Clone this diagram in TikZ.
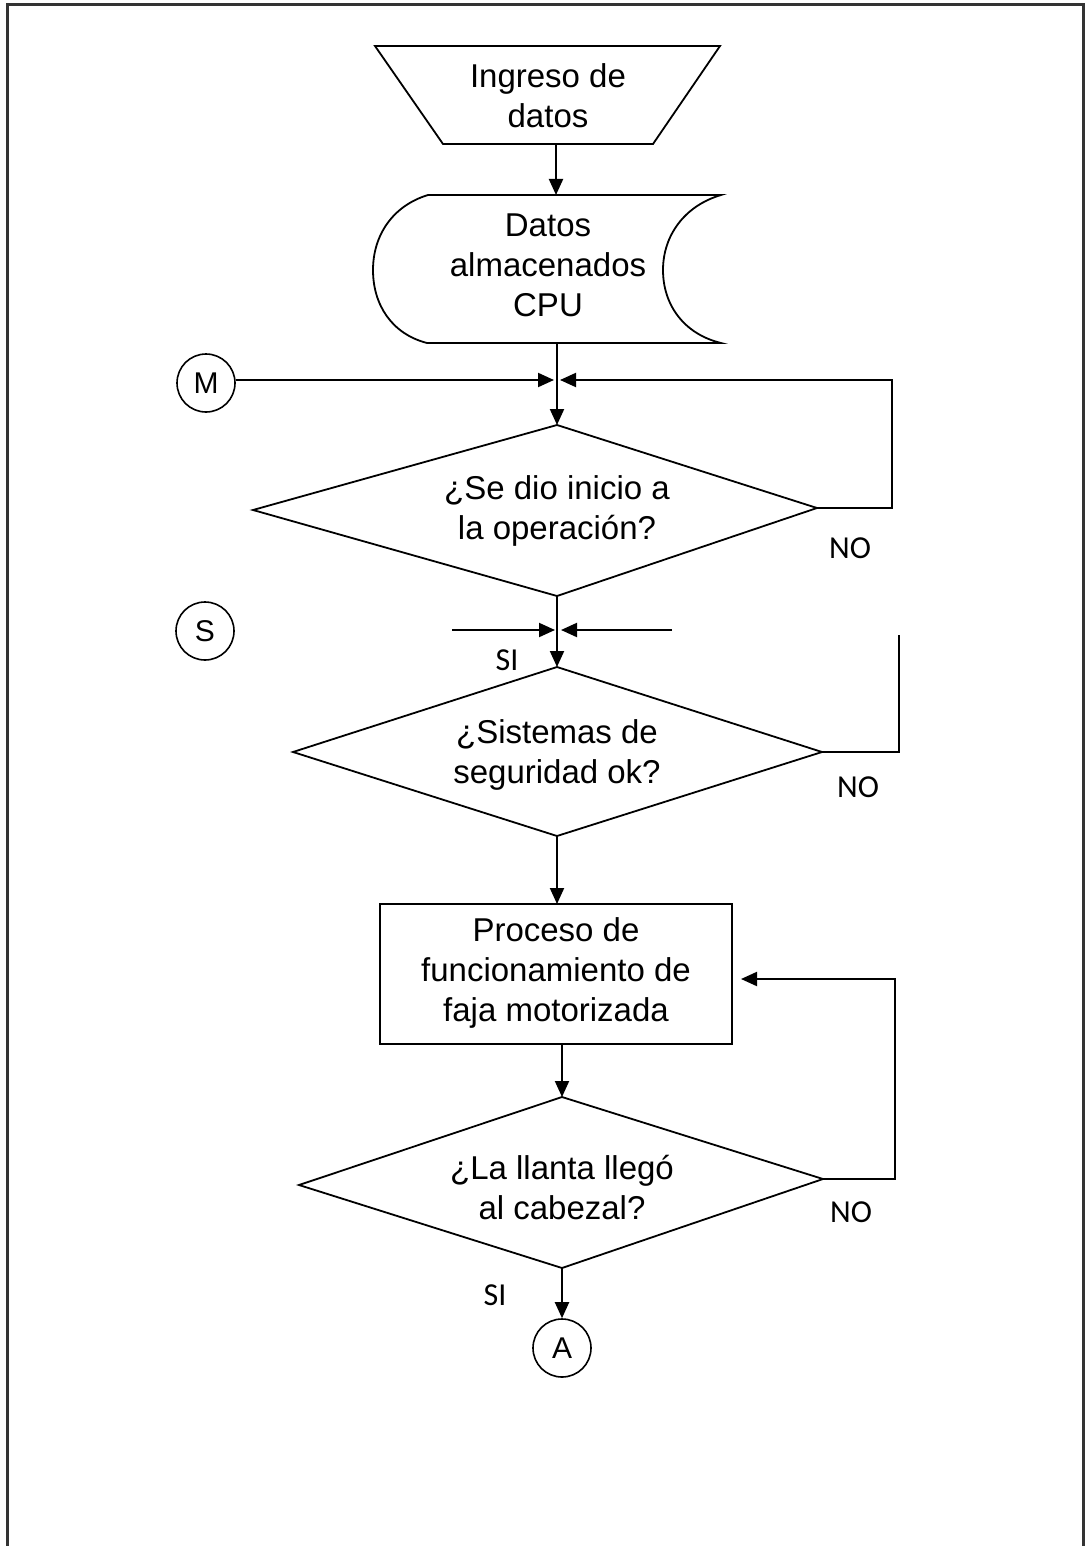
\documentclass[tikz,border=0pt]{standalone}
\usepackage{fontspec}
\setmainfont{Liberation Sans}
\newfontfamily\lblfont{Carlito}
\usetikzlibrary{arrows.meta}
\begin{document}
\begin{tikzpicture}[x=0.5pt,y=-0.5pt,
  frame/.style={draw=black!80, line width=1.5pt},
  shapeline/.style={draw=black, line width=0.9pt, line join=miter},
  wire/.style={draw=black, line width=1pt},
  flow/.style={wire, -{Triangle[length=8pt,width=7pt]}},
  txt/.style={align=center, inner sep=0pt, font=\fontsize{16.5}{20}\selectfont},
  lbl/.style={inner sep=0pt, font=\lblfont\fontsize{16}{18}\selectfont},
  conn/.style={draw, circle, minimum size=29pt, inner sep=0pt, line width=0.8pt,
    font=\fontsize{15}{17}\selectfont}]
\useasboundingbox (0,0) rectangle (1087,1546);

% page frame, open at the bottom
\draw[frame] (7,1546) -- (7,5) -- (1083,5) -- (1083,1546);

% --- input (trapezoid) ---
\coordinate (in-tl) at (375,46);
\coordinate (in-tr) at (720,46);
\coordinate (in-br) at (653,144);
\coordinate (in-bl) at (443,144);
\coordinate (in-s) at (556,144);
\draw[shapeline] (in-tl) -- (in-tr) -- (in-br) -- (in-bl) -- cycle;
\node[txt] (in) at (548,96) {Ingreso de\\datos};

% --- stored data ---
\coordinate (st-n) at (556,195);
\coordinate (st-s) at (557,343);
\draw[shapeline] (428,195) -- (721,195)
  .. controls (684,206) and (663,236) .. (663,270)
  .. controls (663,305) and (684,334) .. (721,343)
  -- (427,343)
  .. controls (392,334) and (373,305) .. (373,270)
  .. controls (373,236) and (392,206) .. (428,195) -- cycle;
\node[txt] (st) at (548,265) {Datos\\almacenados\\CPU};

% --- decision 1 ---
\coordinate (d1-n) at (557,425);
\coordinate (d1-s) at (557,596);
\coordinate (d1-w) at (253,510);
\coordinate (d1-e) at (817,508);
\draw[shapeline] (d1-n) -- (d1-e) -- (d1-s) -- (d1-w) -- cycle;
\node[txt] (d1) at (557,511) {¿Se dio inicio a\\la operación?};

% --- decision 2 ---
\coordinate (d2-n) at (557,667);
\coordinate (d2-s) at (557,836);
\coordinate (d2-w) at (293,752);
\coordinate (d2-e) at (822,752);
\draw[shapeline] (d2-n) -- (d2-e) -- (d2-s) -- (d2-w) -- cycle;
\node[txt] (d2) at (557,755) {¿Sistemas de\\seguridad ok?};

% --- process box ---
\coordinate (bx-n) at (557,904);
\coordinate (bx-s) at (562,1044);
\coordinate (bx-e) at (741,979);
\draw[shapeline] (380,904) rectangle (732,1044);
\node[txt] (bx) at (556,973) {Proceso de\\funcionamiento de\\faja motorizada};

% --- decision 3 ---
\coordinate (d3-n) at (562,1097);
\coordinate (d3-s) at (562,1268);
\coordinate (d3-w) at (299,1185);
\coordinate (d3-e) at (823,1179);
\draw[shapeline] (d3-n) -- (d3-e) -- (d3-s) -- (d3-w) -- cycle;
\node[txt] (d3) at (562,1187) {¿La llanta llegó\\al cabezal?};

% --- connectors (circles) ---
\node[conn] (M) at (206,383) {M};
\node[conn] (S) at (205,631) {S};
\node[conn] (A) at (562,1348) {A};

% --- junction points ---
\coordinate (j1l) at (554,380);
\coordinate (j1r) at (560,380);
\coordinate (j2l) at (555,630);
\coordinate (j2r) at (561,630);
\coordinate (s-left) at (452,630);
\coordinate (s-right) at (672,630);

% --- flow lines ---
\draw[flow] (in-s) -- (st-n);
\draw[flow] (st-s) -- (d1-n);
\draw[flow] (M.east |- j1l) -- (j1l);
\draw[flow] (d1-e) -- (892,508) -- (892,380) -- (j1r);
\draw[flow] (d1-s) -- (d2-n);
\draw[flow] (s-left) -- (j2l);
\draw[flow] (s-right) -- (j2r);
\draw[wire] (d2-e) -- (899,752) -- (899,635);
\draw[flow] (d2-s) -- (bx-n);
\draw[flow] (bx-s) -- (d3-n);
\draw[flow] (d3-e) -- (895,1179) -- (895,979) -- (bx-e);
\draw[flow] (d3-s) -- (A.north);

% --- branch labels ---
\node[lbl] (no1) at (850,548) {NO};
\node[lbl] (no2) at (858,787) {NO};
\node[lbl] (no3) at (851,1212) {NO};
\node[lbl] (si1) at (507,660) {SI};
\node[lbl] (si2) at (495,1295) {SI};
\end{tikzpicture}
\end{document}
